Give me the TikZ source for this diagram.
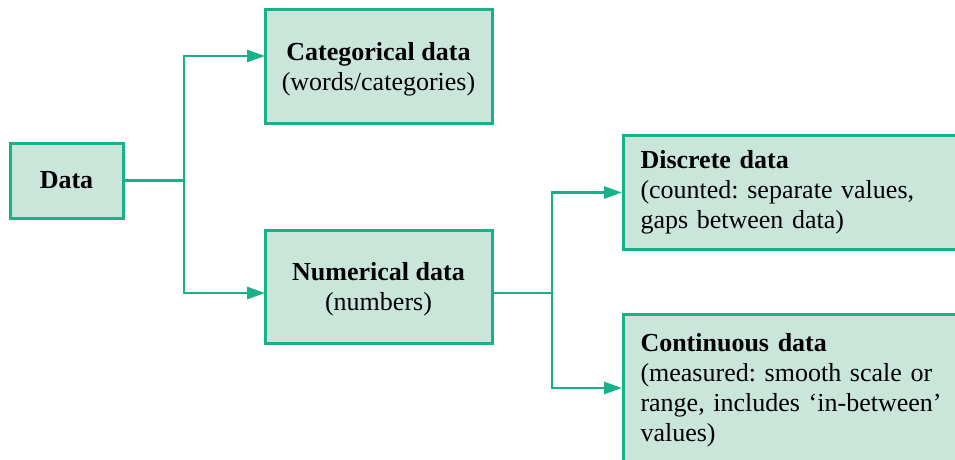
\documentclass[tikz,border=0pt]{standalone}
\usepackage{fontspec}
\setmainfont{Liberation Serif}
\frenchspacing
\usetikzlibrary{arrows.meta}

\definecolor{boxfill}{RGB}{202,230,218}
\definecolor{boxline}{RGB}{24,178,138}

\tikzset{
    databox/.style={draw=boxline, fill=boxfill, line width=3pt,
        font=\fontsize{26}{30}\selectfont, align=center},
    sidebox/.style={databox, anchor=north west, align=left,
        text width=345pt, inner xsep=17pt, inner ysep=0pt},
    link/.style={draw=boxline, line width=2.8pt},
    linkarrow/.style={link, -{Triangle[length=18pt,width=12pt]}}
}

\begin{document}
\begin{tikzpicture}[x=1pt, y=-1pt]
    \useasboundingbox (0,0) rectangle (955,460);

    % Boxes
    \path
    (66.5, 180.5) node[databox, minimum width=113pt, minimum height=75pt] (data) {\textbf{Data}}
    (378.5, 66.5) node[databox, minimum width=227pt, minimum height=113pt, text height=50pt, text depth=3pt] (cat) {\textbf{Categorical data}\\(words/categories)}
    (378.5, 286.5) node[databox, minimum width=227pt, minimum height=113pt, text height=50pt, text depth=3pt] (num) {\textbf{Numerical data}\\(numbers)}
    (622, 134) node[sidebox, text height=33pt, text depth=81pt] (disc) {\textbf{Discrete data}\\(counted: separate values,\\gaps between data)}
    (622, 313) node[sidebox, text height=37pt, text depth=125pt] (cont) {\textbf{Continuous data}\\(measured: smooth scale or\\range, includes `in-between'\\values)}
    ;

    % Branch points
    \coordinate (split1) at (184, 180.5);
    \coordinate (split2) at (552, 293);

    % Connectors
    \draw[link] (data.east) -- (split1);
    \draw[linkarrow] (split1) |- (265, 56);
    \draw[linkarrow] (split1) |- (265, 293);
    \draw[link] (num.east |- split2) -- (split2);
    \draw[linkarrow] (split2) |- (disc.west);
    \draw[linkarrow] (split2) |- (cont.west |- 0, 388);

\end{tikzpicture}
\end{document}
